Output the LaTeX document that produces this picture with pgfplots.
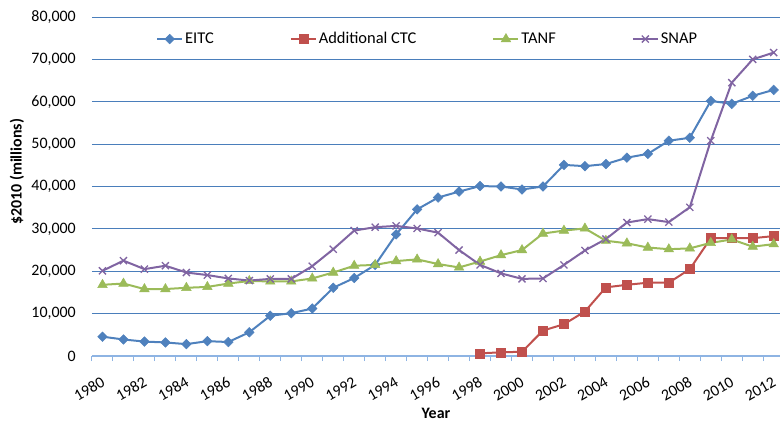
\documentclass[border=0pt]{standalone}
\usepackage{fontspec}
\setmainfont{Carlito}
\usepackage{pgfplots}
\pgfplotsset{compat=1.18}
\definecolor{eitc}{HTML}{4F81BD}
\definecolor{ctc}{HTML}{C0504D}
\definecolor{tanf}{HTML}{9BBB59}
\definecolor{snap}{HTML}{8064A2}
\definecolor{gridblue}{HTML}{4A7EBB}
\definecolor{axblue}{HTML}{8EB4E3}
\begin{document}
\begin{tikzpicture}[font=\fontsize{16}{19}\selectfont]
\begin{axis}[
  name=ax,
  scale only axis,
  width=688bp, height=339bp,
  xmin=1979.5, xmax=2012.3,
  ymin=0, ymax=80000,
  xtick={1980,1982,...,2012},
  minor xtick={1979.5,1980.5,...,2011.5},
  ytick={0,10000,...,80000},
  scaled ticks=false,
  /pgf/number format/.cd, 1000 sep={,}, assume math mode=true, /pgfplots/.cd,
  xticklabel style={/pgf/number format/1000 sep={}, xshift=-2bp, yshift=-20bp, rotate=30, anchor=north east, inner sep=0pt},
  yticklabel style={inner sep=0pt, xshift=-16bp},
  major tick length=0pt,
  minor tick length=5bp,
  tick align=outside,
  tick style={axblue, line width=1bp},
  axis x line*=bottom,
  axis y line*=left,
  x axis line style={axblue, line width=1.5bp, -},
  y axis line style={draw=none},
  ymajorgrids,
  major grid style={gridblue, line width=0.9bp},
  xlabel={\textbf{Year}},
  ylabel={\textbf{\$2010 (millions)}},
  xlabel style={at={(axis description cs:0.5,0)}, anchor=south, yshift=-66bp},
  ylabel style={at={(axis description cs:-0.109,0.543)}, anchor=center},
  legend columns=4,
  legend style={draw=none, fill=none, at={(0.093,0.935)}, anchor=west, inner sep=0pt,
    /tikz/every even column/.append style={column sep=74bp},
    nodes={inner sep=2bp}, font=\fontsize{16.5}{19}\selectfont},
  legend cell align=left,
  legend image code/.code={\draw[mark repeat=2,mark phase=2] plot coordinates {(0bp,0bp) (12.5bp,0bp) (25bp,0bp)};},
  every axis plot/.append style={line width=2bp},
]
\addplot[eitc, mark=square*, mark size=3.4bp, mark options={rotate=45, fill=eitc, draw=eitc, line width=0.5bp}] coordinates {
(1980,4560) (1981,3900) (1982,3400) (1983,3200) (1984,2800) (1985,3500) (1986,3300)
(1987,5600) (1988,9500) (1989,10100) (1990,11200) (1991,16100) (1992,18400) (1993,21500)
(1994,28700) (1995,34600) (1996,37400) (1997,38800) (1998,40100) (1999,40000) (2000,39300)
(2001,40000) (2002,45100) (2003,44800) (2004,45300) (2005,46800) (2006,47700) (2007,50800)
(2008,51500) (2009,60200) (2010,59500) (2011,61400) (2012,62800)};
\addlegendentry{EITC}
\addplot[ctc, mark=square*, mark size=4.5bp, mark options={fill=ctc, draw=ctc, line width=0.5bp}] coordinates {
(1998,630) (1999,870) (2000,1000) (2001,6000) (2002,7500) (2003,10500) (2004,16200)
(2005,16800) (2006,17300) (2007,17300) (2008,20500) (2009,27800) (2010,27800) (2011,27800) (2012,28300)};
\addlegendentry{Additional CTC}
\addplot[tanf, mark=triangle*, mark size=5.5bp, mark options={fill=tanf, draw=tanf, line width=0.5bp}] coordinates {
(1980,16800) (1981,17100) (1982,15800) (1983,15800) (1984,16100) (1985,16300) (1986,17100)
(1987,17700) (1988,17600) (1989,17600) (1990,18300) (1991,19700) (1992,21300) (1993,21500)
(1994,22400) (1995,22800) (1996,21700) (1997,20900) (1998,22300) (1999,23800) (2000,25000)
(2001,28900) (2002,29600) (2003,30100) (2004,27200) (2005,26600) (2006,25600) (2007,25200)
(2008,25400) (2009,26700) (2010,27500) (2011,25800) (2012,26400)};
\addlegendentry{TANF}
\addplot[snap, mark=x, mark size=5bp, mark options={draw=snap, line width=1.3bp}] coordinates {
(1980,20100) (1981,22500) (1982,20500) (1983,21300) (1984,19700) (1985,19100) (1986,18300)
(1987,17800) (1988,18200) (1989,18200) (1990,21200) (1991,25200) (1992,29600) (1993,30400)
(1994,30700) (1995,30100) (1996,29100) (1997,25000) (1998,21500) (1999,19500) (2000,18200)
(2001,18300) (2002,21500) (2003,24900) (2004,27600) (2005,31500) (2006,32300) (2007,31600)
(2008,35100) (2009,50800) (2010,64500) (2011,70000) (2012,71600)};
\addlegendentry{SNAP}
\end{axis}
\pgfresetboundingbox
\path[use as bounding box] ([xshift=-92bp,yshift=-66bp]ax.south west) rectangle ([yshift=17bp]ax.north east);
\end{tikzpicture}
\end{document}
